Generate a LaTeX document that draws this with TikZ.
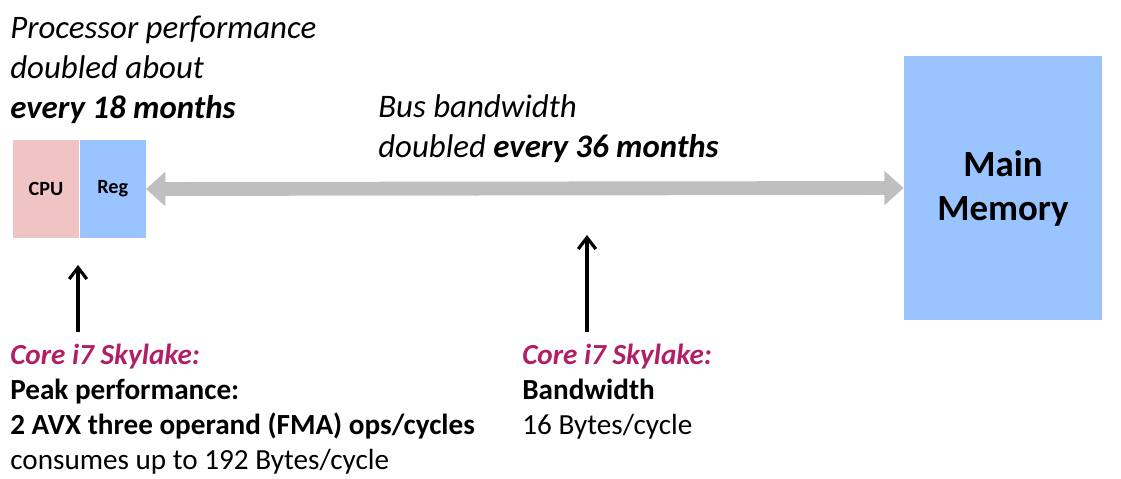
\documentclass[tikz,border=0pt]{standalone}
\usepackage{fontspec}
\setmainfont{Carlito}
\usetikzlibrary{positioning,arrows.meta}
\definecolor{cpupink}{RGB}{240,196,196}
\definecolor{regblue}{RGB}{153,196,255}
\definecolor{busgray}{RGB}{191,191,191}
\definecolor{skylake}{RGB}{176,32,102}
\tikzset{
  >=Stealth,
  unit/.style={inner sep=0pt, minimum width=1.32cm, minimum height=1.96cm,
    font=\fontsize{11.5}{13}\selectfont\bfseries},
  note/.style={inner sep=0pt, anchor=north west, align=left},
}

\begin{document}
\begin{tikzpicture}[
  x=0.02cm, y=-0.02cm,
  big/.style={note, font=\fontsize{18.7}{22.7}\selectfont},
  small/.style={note, font=\fontsize{16.6}{19.8}\selectfont},
  bus/.style={busgray, line width=7.9pt,
    {Triangle[length=11pt,width=19pt]}-{Triangle[length=11pt,width=19pt]}},
  up/.style={line width=1.8pt, -{Straight Barb[length=6.5pt,width=10pt]}}
]
\useasboundingbox (0,0) rectangle (1121,479);

% boxes
\node[unit, fill=cpupink] (cpu) at (46,189) {CPU};
\node[unit, fill=regblue, right=0pt of cpu] (reg) {Reg};
\node[fill=regblue, inner sep=0pt, minimum width=3.96cm, minimum height=5.28cm,
  align=center, font=\fontsize{21}{25}\selectfont\bfseries] (mem) at (1003,188)
  {Main\\Memory};

\draw[bus] (reg.east) -- (mem.west);

% labels
\node[big] (proc) at (10,16) {{\itshape Processor performance}\\
  {\itshape doubled about}\\ {\bfseries\itshape every 18 months}};
\node[big] (busbw) at (378,94) {{\itshape Bus bandwidth}\\
  {\itshape doubled {\bfseries every 36 months}}};

\node[small] (peak) at (10,344) {{\color{skylake}\bfseries\itshape Core i7 Skylake:}\\
  {\bfseries Peak performance:}\\
  {\bfseries 2 AVX three operand (FMA) ops/cycles}\\
  consumes up to 192 Bytes/cycle};
\node[small] (bw) at (522,344) {{\color{skylake}\bfseries\itshape Core i7 Skylake:}\\
  {\bfseries Bandwidth}\\
  16 Bytes/cycle};

% pointers
\coordinate (cpufoot) at (78,332);
\coordinate (cputip) at (78,265);
\coordinate (busfoot) at (587,332);
\coordinate (bustip) at (587,235);
\draw[up] (cpufoot) -- (cputip);
\draw[up] (busfoot) -- (bustip);
\end{tikzpicture}
\end{document}
